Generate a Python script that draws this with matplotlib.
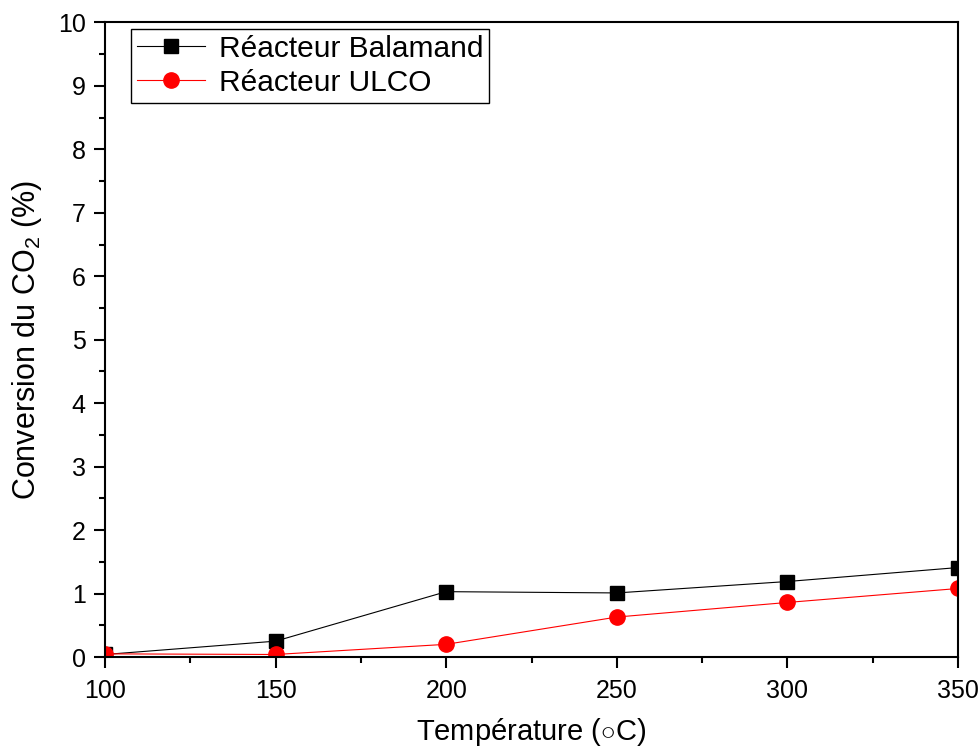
import matplotlib
matplotlib.use("Agg")
import matplotlib.pyplot as plt
from matplotlib.ticker import MultipleLocator

plt.rcParams["font.family"] = ["Liberation Sans", "DejaVu Sans"]
plt.rcParams["mathtext.fontset"] = "custom"
plt.rcParams["mathtext.rm"] = "Liberation Sans"
plt.rcParams["mathtext.it"] = "Liberation Sans:italic"

# Data
temperature = [100, 150, 200, 250, 300, 350]
conv_balamand = [0.04, 0.25, 1.03, 1.01, 1.19, 1.41]
conv_ulco = [0.05, 0.04, 0.20, 0.63, 0.86, 1.08]

fig = plt.figure(figsize=(9.8, 7.49), dpi=100)
ax = fig.add_axes([0.1071, 0.1228, 0.8705, 0.8472])

ax.plot(temperature, conv_balamand, color="k", linewidth=0.8,
        marker="s", markersize=9.5, label="Réacteur Balamand")
ax.plot(temperature, conv_ulco, color="red", linewidth=0.8,
        marker="o", markersize=11, label="Réacteur ULCO")

ax.set_xlim(100, 350)
ax.set_ylim(0, 10)
ax.xaxis.set_major_locator(MultipleLocator(50))
ax.xaxis.set_minor_locator(MultipleLocator(25))
ax.yaxis.set_major_locator(MultipleLocator(1))
ax.yaxis.set_minor_locator(MultipleLocator(0.5))

for s in ax.spines.values():
    s.set_linewidth(1.5)
ax.tick_params(axis="x", which="major", pad=8)
ax.tick_params(axis="y", which="major", pad=6)
ax.tick_params(which="major", direction="out", length=8, width=1.5,
               labelsize=18)
ax.tick_params(which="minor", direction="out", length=4, width=1.5)

ax.set_xlabel(r"Température ($\circ$C)", fontsize=21, labelpad=9)
ax.set_ylabel(r"Conversion du CO$_2$ (%)", fontsize=22, labelpad=10)

leg = ax.legend(loc="upper left", bbox_to_anchor=(0.03, 0.99),
                borderaxespad=0, fontsize=21.5, handlelength=2.3,
                fancybox=False, framealpha=1, edgecolor="k",
                borderpad=0.2, labelspacing=0.2, handletextpad=0.45)
leg.get_frame().set_linewidth(1.0)

fig.savefig("out.png", dpi=100)
